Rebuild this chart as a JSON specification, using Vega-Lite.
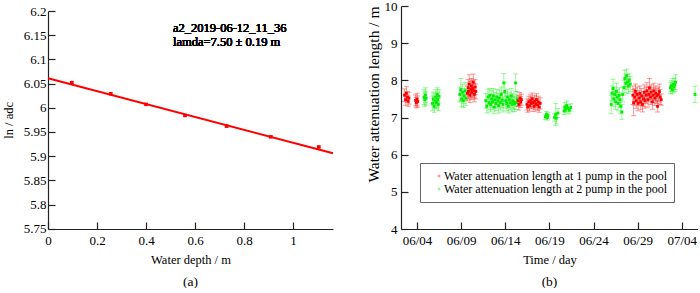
{
  "$schema": "https://vega.github.io/schema/vega-lite/v6.json",
  "background": "white",
  "padding": {"left": 2, "top": 0, "right": 0, "bottom": 0},
  "bounds": "flush",
  "spacing": 68,
  "resolve": {"scale": {"color": "independent"}, "legend": {"color": "independent"}},
  "config": {
    "font": "Liberation Serif",
    "view": {"stroke": null},
    "axis": {
      "labelFont": "Liberation Serif", "titleFont": "Liberation Serif",
      "labelFontSize": 13, "titleFontSize": 12.5, "titleFontWeight": "normal",
      "labelColor": "black", "titleColor": "black",
      "domainColor": "#222", "tickColor": "#222", "domainWidth": 1.2, "tickWidth": 1.2,
      "tickSize": -7, "grid": false, "labelOverlap": false, "labelFlush": false
    },
    "axisX": {"labelPadding": 12, "titlePadding": 6},
    "title": {"font": "Liberation Serif", "fontSize": 13.5, "fontWeight": "normal", "color": "black"}
  },
  "hconcat": [
    {
      "width": 285,
      "height": 223,
      "title": {"text": "(a)", "orient": "bottom", "offset": 9},
      "data": {"values": [
        {"depth": 0.097, "lnadc": 6.052, "e": 0.002},
        {"depth": 0.256, "lnadc": 6.029, "e": 0.002},
        {"depth": 0.400, "lnadc": 6.007, "e": 0.002},
        {"depth": 0.559, "lnadc": 5.984, "e": 0.002},
        {"depth": 0.729, "lnadc": 5.962, "e": 0.002},
        {"depth": 0.909, "lnadc": 5.940, "e": 0.002},
        {"depth": 1.105, "lnadc": 5.919, "e": 0.002}
      ]},
      "encoding": {
        "x": {"field": "depth", "type": "quantitative",
              "scale": {"domain": [0, 1.163], "nice": false, "zero": false},
              "axis": {"values": [0, 0.2, 0.4, 0.6, 0.8, 1], "format": ".1~f", "title": "Water depth / m", "labelOverlap": false}},
        "y": {"field": "lnadc", "type": "quantitative",
              "scale": {"domain": [5.75, 6.2], "nice": false, "zero": false, "range": [222.7, 5]},
              "axis": {"values": [5.75, 5.8, 5.85, 5.9, 5.95, 6, 6.05, 6.1, 6.15, 6.2], "format": ".2~f", "title": "ln / adc", "labelPadding": 9, "titlePadding": 8, "labelOverlap": false}}
      },
      "layer": [
        {
          "data": {"values": [{"depth": 0, "lnadc": 6.061}, {"depth": 1.163, "lnadc": 5.906}]},
          "mark": {"type": "line", "color": "#ff0000", "strokeWidth": 2}
        },
        {
          "mark": {"type": "errorbar", "ticks": {"size": 4, "color": "#ff0000"}, "rule": {"color": "#ff0000"}, "thickness": 1},
          "encoding": {"yError": {"field": "e"}}
        },
        {
          "mark": {"type": "point", "shape": "square", "filled": true, "size": 12, "color": "#ff0000", "opacity": 1}
        },
        {
          "mark": {"type": "text", "align": "left", "baseline": "middle", "fontSize": 12.5, "fontWeight": "normal", "font": "Liberation Serif", "color": "black"},
          "encoding": {
            "x": {"datum": 0.51, "type": "quantitative"},
            "y": {"datum": 6.164, "type": "quantitative"},
            "text": {"value": "a2_2019-06-12_11_36"}
          }
        },
        {
          "mark": {"type": "text", "align": "left", "baseline": "middle", "fontSize": 12.5, "fontWeight": "normal", "font": "Liberation Serif", "color": "black"},
          "encoding": {
            "x": {"datum": 0.51, "type": "quantitative"},
            "y": {"datum": 6.136, "type": "quantitative"},
            "text": {"value": "lamda=7.50 ± 0.19 m"}
          }
        }
      ]
    },
    {
      "width": 297,
      "height": 223,
      "title": {"text": "(b)", "orient": "bottom", "offset": 9},
      "data": {"values": [
        {"t": "2019-06-02T14:00", "v": 7.60, "e": 0.17, "p": "1"},
        {"t": "2019-06-02T17:00", "v": 7.48, "e": 0.15, "p": "1"},
        {"t": "2019-06-02T19:00", "v": 7.65, "e": 0.18, "p": "1"},
        {"t": "2019-06-02T22:00", "v": 7.55, "e": 0.15, "p": "1"},
        {"t": "2019-06-03T00:00", "v": 7.44, "e": 0.14, "p": "1"},
        {"t": "2019-06-03T02:00", "v": 7.52, "e": 0.16, "p": "1"},
        {"t": "2019-06-03T20:00", "v": 7.46, "e": 0.15, "p": "1"},
        {"t": "2019-06-03T22:00", "v": 7.40, "e": 0.14, "p": "1"},
        {"t": "2019-06-04T00:00", "v": 7.49, "e": 0.16, "p": "1"},
        {"t": "2019-06-04T02:00", "v": 7.43, "e": 0.15, "p": "1"},
        {"t": "2019-06-04T19:00", "v": 7.55, "e": 0.20, "p": "2"},
        {"t": "2019-06-04T21:00", "v": 7.48, "e": 0.18, "p": "2"},
        {"t": "2019-06-04T23:00", "v": 7.60, "e": 0.20, "p": "2"},
        {"t": "2019-06-05T01:00", "v": 7.52, "e": 0.19, "p": "2"},
        {"t": "2019-06-05T18:00", "v": 7.38, "e": 0.20, "p": "2"},
        {"t": "2019-06-05T20:00", "v": 7.50, "e": 0.18, "p": "2"},
        {"t": "2019-06-05T23:00", "v": 7.30, "e": 0.16, "p": "2"},
        {"t": "2019-06-06T01:00", "v": 7.45, "e": 0.20, "p": "2"},
        {"t": "2019-06-06T03:00", "v": 7.55, "e": 0.20, "p": "2"},
        {"t": "2019-06-06T05:00", "v": 7.40, "e": 0.17, "p": "2"},
        {"t": "2019-06-06T07:00", "v": 7.62, "e": 0.18, "p": "2"},
        {"t": "2019-06-06T08:00", "v": 7.48, "e": 0.20, "p": "2"},
        {"t": "2019-06-06T10:00", "v": 7.35, "e": 0.16, "p": "2"},
        {"t": "2019-06-06T12:00", "v": 7.57, "e": 0.18, "p": "2"},
        {"t": "2019-06-08T20:00", "v": 7.62, "e": 0.20, "p": "2"},
        {"t": "2019-06-08T23:00", "v": 7.75, "e": 0.30, "p": "2"},
        {"t": "2019-06-09T01:00", "v": 7.50, "e": 0.20, "p": "2"},
        {"t": "2019-06-09T04:00", "v": 7.68, "e": 0.22, "p": "2"},
        {"t": "2019-06-09T06:00", "v": 7.45, "e": 0.18, "p": "2"},
        {"t": "2019-06-09T08:00", "v": 7.58, "e": 0.20, "p": "2"},
        {"t": "2019-06-09T11:00", "v": 7.72, "e": 0.22, "p": "2"},
        {"t": "2019-06-09T13:00", "v": 7.52, "e": 0.20, "p": "2"},
        {"t": "2019-06-09T17:00", "v": 7.65, "e": 0.20, "p": "1"},
        {"t": "2019-06-09T19:00", "v": 7.80, "e": 0.22, "p": "1"},
        {"t": "2019-06-09T20:00", "v": 7.70, "e": 0.20, "p": "1"},
        {"t": "2019-06-09T22:00", "v": 7.90, "e": 0.25, "p": "1"},
        {"t": "2019-06-10T00:00", "v": 7.60, "e": 0.20, "p": "1"},
        {"t": "2019-06-10T02:00", "v": 7.75, "e": 0.22, "p": "1"},
        {"t": "2019-06-10T04:00", "v": 7.85, "e": 0.20, "p": "1"},
        {"t": "2019-06-10T05:00", "v": 7.68, "e": 0.20, "p": "1"},
        {"t": "2019-06-10T07:00", "v": 7.78, "e": 0.22, "p": "1"},
        {"t": "2019-06-10T09:00", "v": 7.95, "e": 0.22, "p": "1"},
        {"t": "2019-06-10T11:00", "v": 7.72, "e": 0.20, "p": "1"},
        {"t": "2019-06-10T12:00", "v": 7.62, "e": 0.20, "p": "1"},
        {"t": "2019-06-10T14:00", "v": 7.82, "e": 0.20, "p": "1"},
        {"t": "2019-06-10T16:00", "v": 7.70, "e": 0.20, "p": "1"},
        {"t": "2019-06-11T19:00", "v": 7.45, "e": 0.20, "p": "2"},
        {"t": "2019-06-11T22:00", "v": 7.30, "e": 0.18, "p": "2"},
        {"t": "2019-06-12T01:00", "v": 7.55, "e": 0.20, "p": "2"},
        {"t": "2019-06-12T04:00", "v": 7.40, "e": 0.20, "p": "2"},
        {"t": "2019-06-12T06:00", "v": 7.60, "e": 0.18, "p": "2"},
        {"t": "2019-06-12T08:00", "v": 7.35, "e": 0.20, "p": "2"},
        {"t": "2019-06-12T11:00", "v": 7.50, "e": 0.22, "p": "2"},
        {"t": "2019-06-12T13:00", "v": 7.42, "e": 0.20, "p": "2"},
        {"t": "2019-06-12T16:00", "v": 7.58, "e": 0.20, "p": "2"},
        {"t": "2019-06-12T18:00", "v": 7.28, "e": 0.18, "p": "2"},
        {"t": "2019-06-12T20:00", "v": 7.48, "e": 0.20, "p": "2"},
        {"t": "2019-06-12T23:00", "v": 7.38, "e": 0.20, "p": "2"},
        {"t": "2019-06-13T01:00", "v": 7.55, "e": 0.20, "p": "2"},
        {"t": "2019-06-13T04:00", "v": 7.45, "e": 0.20, "p": "2"},
        {"t": "2019-06-13T06:00", "v": 7.32, "e": 0.20, "p": "2"},
        {"t": "2019-06-13T08:00", "v": 7.52, "e": 0.22, "p": "2"},
        {"t": "2019-06-13T11:00", "v": 7.40, "e": 0.20, "p": "2"},
        {"t": "2019-06-13T13:00", "v": 7.62, "e": 0.20, "p": "2"},
        {"t": "2019-06-13T16:00", "v": 7.47, "e": 0.20, "p": "2"},
        {"t": "2019-06-13T18:00", "v": 7.35, "e": 0.20, "p": "2"},
        {"t": "2019-06-13T20:00", "v": 7.93, "e": 0.25, "p": "2"},
        {"t": "2019-06-13T23:00", "v": 7.70, "e": 0.25, "p": "2"},
        {"t": "2019-06-14T01:00", "v": 7.45, "e": 0.20, "p": "2"},
        {"t": "2019-06-14T04:00", "v": 7.38, "e": 0.20, "p": "2"},
        {"t": "2019-06-14T06:00", "v": 7.55, "e": 0.20, "p": "2"},
        {"t": "2019-06-14T08:00", "v": 7.30, "e": 0.18, "p": "2"},
        {"t": "2019-06-14T11:00", "v": 7.48, "e": 0.20, "p": "2"},
        {"t": "2019-06-14T13:00", "v": 7.40, "e": 0.20, "p": "2"},
        {"t": "2019-06-14T16:00", "v": 7.58, "e": 0.20, "p": "2"},
        {"t": "2019-06-14T18:00", "v": 7.35, "e": 0.20, "p": "2"},
        {"t": "2019-06-14T20:00", "v": 7.45, "e": 0.20, "p": "2"},
        {"t": "2019-06-14T23:00", "v": 7.42, "e": 0.20, "p": "2"},
        {"t": "2019-06-15T01:00", "v": 7.36, "e": 0.20, "p": "2"},
        {"t": "2019-06-15T04:00", "v": 7.93, "e": 0.24, "p": "2"},
        {"t": "2019-06-15T06:00", "v": 7.40, "e": 0.18, "p": "2"},
        {"t": "2019-06-15T08:00", "v": 7.50, "e": 0.20, "p": "2"},
        {"t": "2019-06-15T11:00", "v": 7.45, "e": 0.15, "p": "1"},
        {"t": "2019-06-15T13:00", "v": 7.35, "e": 0.15, "p": "1"},
        {"t": "2019-06-15T16:00", "v": 7.52, "e": 0.15, "p": "1"},
        {"t": "2019-06-15T18:00", "v": 7.42, "e": 0.15, "p": "1"},
        {"t": "2019-06-15T20:00", "v": 7.48, "e": 0.15, "p": "1"},
        {"t": "2019-06-16T11:00", "v": 7.35, "e": 0.15, "p": "1"},
        {"t": "2019-06-16T13:00", "v": 7.28, "e": 0.14, "p": "1"},
        {"t": "2019-06-16T16:00", "v": 7.42, "e": 0.15, "p": "1"},
        {"t": "2019-06-16T18:00", "v": 7.32, "e": 0.15, "p": "1"},
        {"t": "2019-06-16T20:00", "v": 7.45, "e": 0.16, "p": "1"},
        {"t": "2019-06-16T23:00", "v": 7.38, "e": 0.15, "p": "1"},
        {"t": "2019-06-17T01:00", "v": 7.50, "e": 0.16, "p": "1"},
        {"t": "2019-06-17T04:00", "v": 7.40, "e": 0.15, "p": "1"},
        {"t": "2019-06-17T06:00", "v": 7.30, "e": 0.14, "p": "1"},
        {"t": "2019-06-17T08:00", "v": 7.44, "e": 0.15, "p": "1"},
        {"t": "2019-06-17T11:00", "v": 7.36, "e": 0.15, "p": "1"},
        {"t": "2019-06-17T13:00", "v": 7.48, "e": 0.16, "p": "1"},
        {"t": "2019-06-17T16:00", "v": 7.34, "e": 0.15, "p": "1"},
        {"t": "2019-06-17T18:00", "v": 7.42, "e": 0.15, "p": "1"},
        {"t": "2019-06-17T20:00", "v": 7.28, "e": 0.14, "p": "1"},
        {"t": "2019-06-17T23:00", "v": 7.38, "e": 0.15, "p": "1"},
        {"t": "2019-06-18T13:00", "v": 7.02, "e": 0.07, "p": "2"},
        {"t": "2019-06-18T16:00", "v": 7.08, "e": 0.08, "p": "2"},
        {"t": "2019-06-18T18:00", "v": 7.00, "e": 0.07, "p": "2"},
        {"t": "2019-06-18T20:00", "v": 7.05, "e": 0.08, "p": "2"},
        {"t": "2019-06-19T14:00", "v": 7.00, "e": 0.10, "p": "2"},
        {"t": "2019-06-19T17:00", "v": 7.08, "e": 0.30, "p": "2"},
        {"t": "2019-06-19T19:00", "v": 6.98, "e": 0.15, "p": "2"},
        {"t": "2019-06-19T23:00", "v": 7.12, "e": 0.12, "p": "2"},
        {"t": "2019-06-20T16:00", "v": 7.18, "e": 0.10, "p": "2"},
        {"t": "2019-06-20T18:00", "v": 7.28, "e": 0.12, "p": "2"},
        {"t": "2019-06-20T20:00", "v": 7.22, "e": 0.10, "p": "2"},
        {"t": "2019-06-20T23:00", "v": 7.32, "e": 0.12, "p": "2"},
        {"t": "2019-06-21T02:00", "v": 7.25, "e": 0.10, "p": "2"},
        {"t": "2019-06-21T06:00", "v": 7.20, "e": 0.10, "p": "2"},
        {"t": "2019-06-21T10:00", "v": 7.27, "e": 0.10, "p": "2"},
        {"t": "2019-06-26T00:00", "v": 7.35, "e": 0.25, "p": "2"},
        {"t": "2019-06-26T02:00", "v": 7.65, "e": 0.20, "p": "2"},
        {"t": "2019-06-26T05:00", "v": 7.78, "e": 0.25, "p": "2"},
        {"t": "2019-06-26T07:00", "v": 7.50, "e": 0.20, "p": "2"},
        {"t": "2019-06-26T10:00", "v": 7.62, "e": 0.20, "p": "2"},
        {"t": "2019-06-26T12:00", "v": 7.42, "e": 0.20, "p": "2"},
        {"t": "2019-06-26T14:00", "v": 7.70, "e": 0.22, "p": "2"},
        {"t": "2019-06-26T17:00", "v": 7.55, "e": 0.20, "p": "2"},
        {"t": "2019-06-26T19:00", "v": 7.38, "e": 0.20, "p": "2"},
        {"t": "2019-06-26T22:00", "v": 7.60, "e": 0.20, "p": "2"},
        {"t": "2019-06-27T00:00", "v": 7.48, "e": 0.20, "p": "2"},
        {"t": "2019-06-27T02:00", "v": 7.30, "e": 0.20, "p": "2"},
        {"t": "2019-06-27T05:00", "v": 7.15, "e": 0.20, "p": "2"},
        {"t": "2019-06-27T07:00", "v": 7.62, "e": 0.20, "p": "2"},
        {"t": "2019-06-27T11:00", "v": 7.80, "e": 0.20, "p": "2"},
        {"t": "2019-06-27T13:00", "v": 8.05, "e": 0.22, "p": "2"},
        {"t": "2019-06-27T16:00", "v": 7.92, "e": 0.25, "p": "2"},
        {"t": "2019-06-27T18:00", "v": 8.12, "e": 0.18, "p": "2"},
        {"t": "2019-06-27T20:00", "v": 7.95, "e": 0.20, "p": "2"},
        {"t": "2019-06-27T23:00", "v": 7.85, "e": 0.20, "p": "2"},
        {"t": "2019-06-28T01:00", "v": 8.00, "e": 0.18, "p": "2"},
        {"t": "2019-06-28T04:00", "v": 7.90, "e": 0.20, "p": "2"},
        {"t": "2019-06-28T11:00", "v": 7.60, "e": 0.25, "p": "1"},
        {"t": "2019-06-28T13:00", "v": 7.40, "e": 0.35, "p": "1"},
        {"t": "2019-06-28T16:00", "v": 7.55, "e": 0.22, "p": "1"},
        {"t": "2019-06-28T18:00", "v": 7.70, "e": 0.20, "p": "1"},
        {"t": "2019-06-28T20:00", "v": 7.45, "e": 0.20, "p": "1"},
        {"t": "2019-06-28T23:00", "v": 7.62, "e": 0.20, "p": "1"},
        {"t": "2019-06-29T01:00", "v": 7.38, "e": 0.20, "p": "1"},
        {"t": "2019-06-29T04:00", "v": 7.52, "e": 0.20, "p": "1"},
        {"t": "2019-06-29T06:00", "v": 7.65, "e": 0.20, "p": "1"},
        {"t": "2019-06-29T08:00", "v": 7.42, "e": 0.20, "p": "1"},
        {"t": "2019-06-29T11:00", "v": 7.58, "e": 0.20, "p": "1"},
        {"t": "2019-06-29T13:00", "v": 7.35, "e": 0.20, "p": "1"},
        {"t": "2019-06-29T16:00", "v": 7.50, "e": 0.20, "p": "1"},
        {"t": "2019-06-29T18:00", "v": 7.68, "e": 0.20, "p": "1"},
        {"t": "2019-06-29T20:00", "v": 7.45, "e": 0.20, "p": "1"},
        {"t": "2019-06-29T23:00", "v": 7.60, "e": 0.22, "p": "1"},
        {"t": "2019-06-30T01:00", "v": 7.72, "e": 0.22, "p": "1"},
        {"t": "2019-06-30T04:00", "v": 7.48, "e": 0.20, "p": "1"},
        {"t": "2019-06-30T06:00", "v": 7.62, "e": 0.20, "p": "1"},
        {"t": "2019-06-30T08:00", "v": 7.80, "e": 0.25, "p": "1"},
        {"t": "2019-06-30T11:00", "v": 7.55, "e": 0.20, "p": "1"},
        {"t": "2019-06-30T13:00", "v": 7.68, "e": 0.20, "p": "1"},
        {"t": "2019-06-30T16:00", "v": 7.42, "e": 0.20, "p": "1"},
        {"t": "2019-06-30T18:00", "v": 7.60, "e": 0.20, "p": "1"},
        {"t": "2019-06-30T20:00", "v": 7.72, "e": 0.20, "p": "1"},
        {"t": "2019-06-30T23:00", "v": 7.52, "e": 0.20, "p": "1"},
        {"t": "2019-07-01T01:00", "v": 7.65, "e": 0.20, "p": "1"},
        {"t": "2019-07-01T04:00", "v": 7.58, "e": 0.20, "p": "1"},
        {"t": "2019-07-01T06:00", "v": 7.30, "e": 0.15, "p": "1"},
        {"t": "2019-07-01T08:00", "v": 7.62, "e": 0.20, "p": "1"},
        {"t": "2019-07-01T11:00", "v": 7.70, "e": 0.20, "p": "1"},
        {"t": "2019-07-01T13:00", "v": 7.55, "e": 0.20, "p": "1"},
        {"t": "2019-07-01T16:00", "v": 7.48, "e": 0.15, "p": "1"},
        {"t": "2019-07-02T17:00", "v": 7.80, "e": 0.15, "p": "2"},
        {"t": "2019-07-02T19:00", "v": 7.85, "e": 0.15, "p": "2"},
        {"t": "2019-07-02T22:00", "v": 7.75, "e": 0.12, "p": "2"},
        {"t": "2019-07-03T00:00", "v": 7.90, "e": 0.15, "p": "2"},
        {"t": "2019-07-03T02:00", "v": 7.82, "e": 0.15, "p": "2"},
        {"t": "2019-07-03T05:00", "v": 7.88, "e": 0.18, "p": "2"},
        {"t": "2019-07-03T07:00", "v": 7.95, "e": 0.20, "p": "2"},
        {"t": "2019-07-05T12:00", "v": 7.62, "e": 0.22, "p": "2"}
      ]},
      "encoding": {
        "x": {"field": "t", "type": "temporal",
              "scale": {"domain": [{"year": 2019, "month": 6, "date": 2, "hours": 4, "minutes": 30}, {"year": 2019, "month": 7, "date": 5, "hours": 20}], "nice": false},
              "axis": {"values": [{"year": 2019, "month": 6, "date": 4}, {"year": 2019, "month": 6, "date": 9}, {"year": 2019, "month": 6, "date": 14}, {"year": 2019, "month": 6, "date": 19}, {"year": 2019, "month": 6, "date": 24}, {"year": 2019, "month": 6, "date": 29}, {"year": 2019, "month": 7, "date": 4}],
                       "format": "%m/%d", "title": "Time / day", "labelOverlap": false}},
        "y": {"field": "v", "type": "quantitative",
              "scale": {"domain": [4, 10], "nice": false, "zero": false},
              "axis": {"values": [4, 5, 6, 7, 8, 9, 10], "title": "Water attenuation length / m", "titleFontSize": 15.5, "titleAnchor": "end", "labelPadding": 11, "titlePadding": 3, "labelOverlap": false}},
        "color": {"field": "p", "type": "nominal",
                  "scale": {"domain": ["1", "2"], "range": ["#ff0000", "#00ee00"]},
                  "legend": {"orient": "none", "legendX": 19, "legendY": 157, "title": null,
                             "fillColor": "white", "strokeColor": "#666", "padding": 7,
                             "labelFont": "Liberation Serif", "labelFontSize": 12, "labelColor": "black", "labelLimit": 0,
                             "symbolType": "square", "symbolSize": 7, "symbolStrokeWidth": 0, "symbolOffset": 6, "labelOffset": -1, "rowPadding": 1,
                             "labelExpr": "'Water attenuation length at ' + datum.label + ' pump in the pool'"}}
      },
      "layer": [
        {
          "mark": {"type": "errorbar", "ticks": {"size": 5, "opacity": 0.4}, "rule": {"opacity": 0.4}, "thickness": 1},
          "encoding": {"yError": {"field": "e"}}
        },
        {
          "mark": {"type": "point", "shape": "square", "filled": true, "size": 8, "opacity": 1}
        }
      ]
    }
  ]
}
